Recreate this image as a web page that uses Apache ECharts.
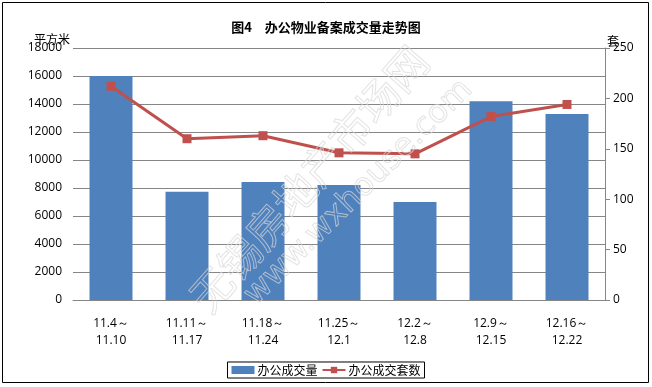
<!DOCTYPE html>
<html><head><meta charset="utf-8">
<script src="https://cdn.jsdelivr.net/npm/echarts@6/dist/echarts.min.js"></script>
<style>html,body{margin:0;padding:0;background:#fff}#c{width:652px;height:387px}</style>
</head><body><div id="c"></div>
<script>
const categories = ['11.4～\n11.10','11.11～\n11.17','11.18～\n11.24','11.25～\n12.1','12.2～\n12.8','12.9～\n12.15','12.16～\n12.22'];
const areaValues = [16000, 7730, 8430, 8220, 7000, 14200, 13290];
const unitValues = [212, 160, 163, 146, 145, 182, 194];
const leftTicks = {min: 0, max: 18000, interval: 2000};
const rightTicks = {min: 0, max: 250, interval: 50};
const titleText = '图4　办公物业备案成交量走势图';
const seriesNames = ['办公成交量', '办公成交套数'];

const chart = echarts.init(document.getElementById('c'), null, {renderer: 'canvas'});
const grey = '#868686';
const font = 'Open Sans';
chart.setOption({
  animation: false,
  backgroundColor: '#fff',
  title: {text: titleText, left: 'center', top: 16,
    textStyle: {fontFamily: 'Noto Sans CJK SC', fontSize: 13, fontWeight: 'bold', color: '#000'}},
  grid: {left: 73, right: 47, top: 48, bottom: 87},
  legend: {
    bottom: 9, left: 'center', orient: 'horizontal',
    borderColor: '#000', borderWidth: 1, padding: [2, 4, 2, 4], itemGap: 4,
    itemWidth: 23, itemHeight: 8,
    textStyle: {fontFamily: 'Noto Sans CJK SC', fontSize: 12, color: '#000', padding: [0, 0, 0, -2]},
    data: [{name: seriesNames[0], icon: 'rect'}, {name: seriesNames[1]}]
  },
  xAxis: {
    type: 'category', data: categories,
    axisLine: {lineStyle: {color: grey}}, axisTick: {show: false},
    axisLabel: {fontFamily: font, fontSize: 12, color: '#000', margin: 15, lineHeight: 17}
  },
  yAxis: [
    {type: 'value', min: leftTicks.min, max: leftTicks.max, interval: leftTicks.interval,
     axisLine: {show: false}, axisTick: {show: false},
     splitLine: {lineStyle: {color: grey, width: 1}},
     axisLabel: {fontFamily: font, fontSize: 12, color: '#000', margin: 11, formatter: v => String(v)}},
    {type: 'value', min: rightTicks.min, max: rightTicks.max, interval: rightTicks.interval,
     position: 'right',
     axisLine: {show: true, lineStyle: {color: grey}},
     axisTick: {show: true, inside: false, length: 5, lineStyle: {color: grey}},
     splitLine: {show: false},
     axisLabel: {fontFamily: font, fontSize: 12, color: '#000', margin: 8, formatter: v => String(v)}}
  ],
  series: [
    {name: seriesNames[0], type: 'bar', yAxisIndex: 0, data: areaValues, barWidth: 43,
     itemStyle: {color: '#4F81BD'}},
    {name: seriesNames[1], type: 'line', yAxisIndex: 1, data: unitValues,
     symbol: 'rect', symbolSize: 9,
     lineStyle: {color: '#C0504D', width: 3}, itemStyle: {color: '#C0504D'}}
  ],
  graphic: [
    {type: 'rect', shape: {x: 2.5, y: 2.5, width: 646, height: 380}, style: {fill: 'none', stroke: '#000', lineWidth: 1}, silent: true, z: 100},
    {type: 'text', x: 34, y: 39, style: {text: '平方米', font: '12px "Noto Sans CJK SC"', fill: '#000', textVerticalAlign: 'middle'}},
    {type: 'text', x: 607, y: 41, style: {text: '套', font: '12px "Noto Sans CJK SC"', fill: '#000', textVerticalAlign: 'middle'}},
    {type: 'text', x: 198, y: 305, rotation: 0.85, z: 50, silent: true,
     style: {text: '无锡房地产市场网', font: '42px "Noto Sans CJK SC"', fill: 'rgba(255,255,255,0)', stroke: 'rgba(215,215,215,0.7)', lineWidth: 1, textVerticalAlign: 'middle'}},
    {type: 'text', x: 250, y: 300, rotation: 0.78, z: 50, silent: true,
     style: {text: 'www.wxhouse.com', font: '32px "DejaVu Sans"', fill: 'rgba(255,255,255,0)', stroke: 'rgba(215,215,215,0.7)', lineWidth: 1, textVerticalAlign: 'middle'}}
  ]
});
</script></body></html>
